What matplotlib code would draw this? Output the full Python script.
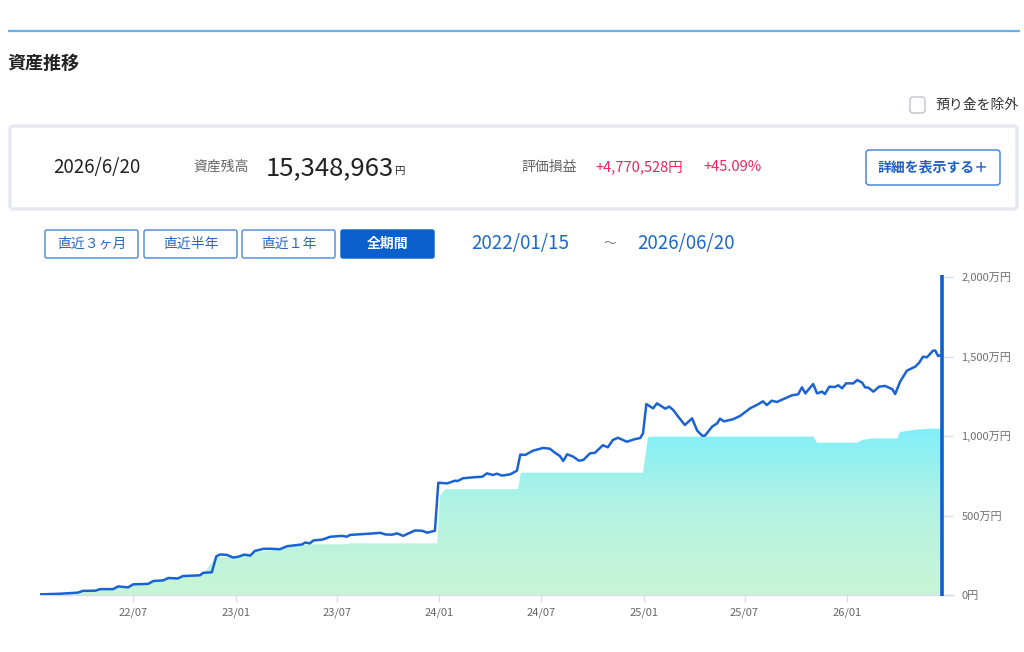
import matplotlib
matplotlib.use("Agg")
import matplotlib.pyplot as plt
import matplotlib.dates as mdates
from matplotlib.patches import FancyBboxPatch, Polygon
from matplotlib.colors import LinearSegmentedColormap
import numpy as np
import pandas as pd

plt.rcParams['font.family'] = ['Noto Sans CJK JP', 'DejaVu Sans']

# 資産残高 (万円)
asset_dates = [
    "2022-01-15", "2022-02-20", "2022-03-24", "2022-04-02", "2022-04-24", "2022-05-03",
    "2022-05-26", "2022-06-04", "2022-06-22", "2022-07-01", "2022-07-28", "2022-08-06",
    "2022-08-24", "2022-09-02", "2022-09-19", "2022-09-28", "2022-10-29", "2022-11-03",
    "2022-11-19", "2022-11-27", "2022-12-04", "2022-12-16", "2022-12-27", "2023-01-05",
    "2023-01-16", "2023-01-27", "2023-02-04", "2023-02-19", "2023-03-03", "2023-03-21",
    "2023-04-03", "2023-04-30", "2023-05-05", "2023-05-14", "2023-05-20", "2023-06-06",
    "2023-06-19", "2023-07-10", "2023-07-19", "2023-07-25", "2023-08-17", "2023-08-30",
    "2023-09-17", "2023-09-26", "2023-10-08", "2023-10-17", "2023-10-28", "2023-11-18",
    "2023-12-01", "2023-12-10", "2023-12-24", "2023-12-30", "2024-01-15", "2024-01-29",
    "2024-02-03", "2024-02-12", "2024-03-01", "2024-03-18", "2024-03-26", "2024-04-06",
    "2024-04-13", "2024-04-22", "2024-05-07", "2024-05-19", "2024-05-25", "2024-06-03",
    "2024-06-17", "2024-07-05", "2024-07-17", "2024-07-26", "2024-08-04", "2024-08-10",
    "2024-08-17", "2024-08-28", "2024-09-07", "2024-09-15", "2024-09-27", "2024-10-06",
    "2024-10-20", "2024-10-29", "2024-11-07", "2024-11-16", "2024-12-02", "2024-12-17",
    "2024-12-26", "2024-12-31", "2025-01-06", "2025-01-18", "2025-01-25", "2025-02-09",
    "2025-02-16", "2025-02-23", "2025-03-04", "2025-03-16", "2025-03-29", "2025-04-07",
    "2025-04-16", "2025-04-21", "2025-05-04", "2025-05-13", "2025-05-18", "2025-05-25",
    "2025-06-10", "2025-06-23", "2025-07-11", "2025-07-24", "2025-08-03", "2025-08-10",
    "2025-08-19", "2025-08-28", "2025-09-08", "2025-09-24", "2025-10-05", "2025-10-12",
    "2025-10-18", "2025-11-01", "2025-11-08", "2025-11-17", "2025-11-22", "2025-11-30",
    "2025-12-10", "2025-12-16", "2025-12-23", "2025-12-30", "2026-01-12", "2026-01-19",
    "2026-01-28", "2026-02-02", "2026-02-08", "2026-02-17", "2026-02-27", "2026-03-10",
    "2026-03-23", "2026-03-28", "2026-04-06", "2026-04-18", "2026-05-03", "2026-05-10",
    "2026-05-17", "2026-05-24", "2026-06-04", "2026-06-08", "2026-06-13", "2026-06-18",
    "2026-06-20",
]
asset_values = [
    4, 8, 15, 26, 27, 37,
    37, 54, 48, 67, 70, 88,
    92, 107, 104, 119, 124, 139,
    143, 243, 255, 252, 236, 240,
    254, 248, 277, 290, 291, 288,
    307, 318, 330, 325, 343, 349,
    366, 372, 367, 378, 383, 386,
    391, 381, 379, 388, 372, 406,
    404, 392, 404, 706, 702, 719,
    717, 734, 740, 744, 765, 755,
    763, 751, 759, 782, 883, 881,
    908, 925, 920, 895, 874, 843,
    885, 870, 845, 849, 891, 895,
    942, 929, 975, 989, 964, 981,
    987, 1017, 1201, 1174, 1205, 1172,
    1185, 1164, 1122, 1069, 1111, 1034,
    1002, 1002, 1059, 1080, 1109, 1092,
    1105, 1126, 1174, 1197, 1218, 1195,
    1222, 1214, 1231, 1256, 1262, 1306,
    1268, 1327, 1268, 1279, 1264, 1310,
    1308, 1319, 1300, 1331, 1331, 1352,
    1335, 1306, 1304, 1279, 1310, 1315,
    1294, 1264, 1342, 1411, 1436, 1461,
    1499, 1495, 1537, 1537, 1503, 1509,
    1507,
]

# 受渡金額 (元本, 万円)
principal_dates = [
    "2022-01-15", "2022-03-24", "2022-04-02", "2022-05-03", "2022-06-04", "2022-07-01",
    "2022-08-06", "2022-09-02", "2022-09-28", "2022-11-03", "2022-11-27", "2023-01-05",
    "2023-01-16", "2023-02-04", "2023-03-21", "2023-04-03", "2023-05-05", "2023-05-14",
    "2023-07-19", "2023-07-25", "2023-12-28", "2024-01-02", "2024-01-11", "2024-05-21",
    "2024-05-26", "2024-12-31", "2025-01-09", "2025-01-16", "2025-11-01", "2025-11-08",
    "2026-01-19", "2026-01-28", "2026-02-17", "2026-04-01", "2026-04-06", "2026-04-29",
    "2026-05-30", "2026-06-20",
]
principal_values = [
    3, 13, 24, 34, 48, 62,
    84, 100, 115, 135, 238, 238,
    248, 270, 285, 300, 315, 319,
    319, 325, 325, 623, 665, 665,
    769, 769, 992, 996, 996, 958,
    958, 975, 985, 985, 1025, 1038,
    1046, 1046,
]

y_ticks = [0, 500, 1000, 1500, 2000]
y_labels = ["0円", "500万円", "1,000万円", "1,500万円", "2,000万円"]
periods = ["直近３ヶ月", "直近半年", "直近１年", "全期間"]

W, H = 1024, 652
fig = plt.figure(figsize=(W / 100, H / 100), dpi=100)
fig.patch.set_facecolor("white")

# ---- page furniture (pixel coords) ----
ui = fig.add_axes([0, 0, 1, 1])
ui.set_xlim(0, W)
ui.set_ylim(H, 0)
ui.axis("off")

ui.plot([8, 1020], [31, 31], color="#5DB4EE", lw=1.6, solid_capstyle="butt")
ui.text(7, 63, "資産推移", fontsize=13, fontweight="bold", color="#222222", va="center")

ui.add_patch(FancyBboxPatch((910, 97), 15, 16, boxstyle="round,pad=0,rounding_size=3",
                            fc="white", ec="#B9BDC8", lw=0.9))
ui.text(935, 105, "預り金を除外", fontsize=10, color="#333333", va="center")

ui.add_patch(FancyBboxPatch((10, 126), 1007, 83, boxstyle="round,pad=0,rounding_size=3",
                            fc="white", ec="#E6E8EF", lw=2.4))
ui.text(53, 167, "2026/6/20", fontsize=13.5, color="#222222", va="center")
ui.text(193, 167, "資産残高", fontsize=10, color="#666666", va="center")
ui.text(266, 168, "15,348,963", fontsize=18.5, color="#222222", va="center")
ui.text(394, 171, "円", fontsize=7.5, color="#222222", va="center")
ui.text(521, 167, "評価損益", fontsize=10, color="#666666", va="center")
ui.text(595, 167, "+4,770,528円", fontsize=10.5, color="#F0245A", va="center")
ui.text(703, 167, "+45.09%", fontsize=10.5, color="#F0245A", va="center")
ui.add_patch(FancyBboxPatch((866, 150), 134, 35, boxstyle="round,pad=0,rounding_size=3",
                            fc="white", ec="#3A7BD5", lw=1.0))
ui.text(933, 167.5, "詳細を表示する＋", fontsize=10, color="#1F5FC5", va="center",
        ha="center", fontweight="bold")

bx = [45, 144, 242, 341]
for x0, lab in zip(bx, periods):
    active = lab == "全期間"
    ui.add_patch(FancyBboxPatch((x0, 230), 93, 28, boxstyle="round,pad=0,rounding_size=2",
                                fc="#0A5FCC" if active else "white",
                                ec="#0A5FCC" if active else "#4A86D8", lw=1.0))
    ui.text(x0 + 46.5, 244, lab, fontsize=10, ha="center", va="center",
            color="white" if active else "#2A68C4",
            fontweight="bold" if active else "normal")
ui.text(471, 244, "2022/01/15", fontsize=13.5, color="#1D68CC", va="center")
ui.text(603, 244, "～", fontsize=9, color="#777777", va="center")
ui.text(637, 244, "2026/06/20", fontsize=13.5, color="#1D68CC", va="center")

# ---- chart ----
x0px, x1px, y0px, y1px = 40, 942, 595, 277
ax = fig.add_axes([x0px / W, 1 - y0px / H, (x1px - x0px) / W, (y0px - y1px) / H])
ax.set_facecolor("none")

ad = pd.to_datetime(asset_dates)
pdt = pd.to_datetime(principal_dates)
xmin, xmax = mdates.date2num(ad[0]), mdates.date2num(ad[-1])
ax.set_xlim(xmin, xmax)
ax.set_ylim(0, 2000)

# gradient area for principal
px = mdates.date2num(pdt)
poly_xy = np.column_stack([np.r_[px[0], px, px[-1]], np.r_[0, principal_values, 0]])
poly = Polygon(poly_xy, closed=True, fc="none", ec="none")
ax.add_patch(poly)
cmap = LinearSegmentedColormap.from_list("g", ["#C9F5D6", "#B4F3E2", "#7FEFF9"])
grad = np.linspace(0, 1, 256).reshape(-1, 1)
im = ax.imshow(grad, extent=[xmin, xmax, 0, 1060], origin="lower", aspect="auto",
               cmap=cmap, zorder=1)
im.set_clip_path(poly)

ax.plot(ad, asset_values, color="#1A63D2", lw=1.8, zorder=3, solid_joinstyle="round")
ax.plot([xmax, xmax], [-8, 2010], color="#0D5FD0", lw=2.6, zorder=4, clip_on=False,
        solid_capstyle="butt")

for s in ["top", "left", "right"]:
    ax.spines[s].set_visible(False)
ax.spines["bottom"].set_color("#D6DCEF")
ax.spines["bottom"].set_linewidth(1.0)
ax.spines["bottom"].set_bounds(xmin, xmax + 11 / 0.5578)

ax.xaxis.set_major_locator(mdates.MonthLocator(bymonth=[1, 7]))
ax.xaxis.set_major_formatter(mdates.DateFormatter("%y/%m"))
ax.tick_params(axis="x", length=5, width=1, color="#D6DCEF", labelsize=8,
               labelcolor="#666666", pad=4)

ax.yaxis.tick_right()
ax.set_yticks(y_ticks)
ax.set_yticklabels(y_labels)
ax.tick_params(axis="y", length=8, width=1, color="#D6DCEF", labelsize=8,
               labelcolor="#6E6E6E", pad=6, direction="out")
ax.grid(False)

fig.savefig("out.png", dpi=100, facecolor="white")
